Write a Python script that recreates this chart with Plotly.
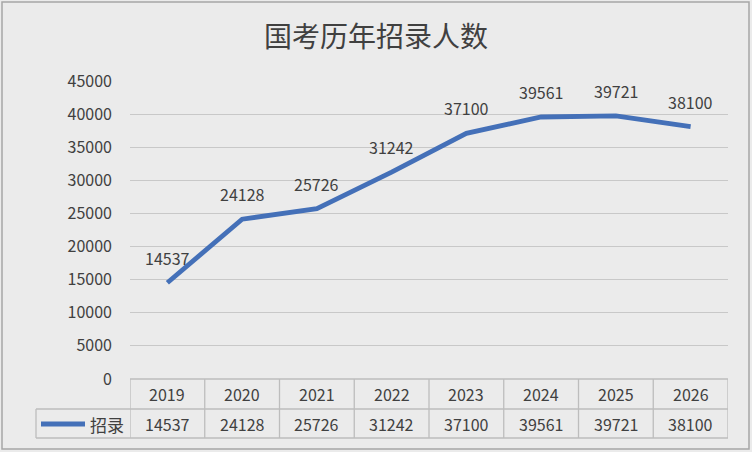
import plotly.graph_objects as go

# data
years = ['2019', '2020', '2021', '2022', '2023', '2024', '2025', '2026']
hires = [14537, 24128, 25726, 31242, 37100, 39561, 39721, 38100]
series_name = '招录'
title = '国考历年招录人数'

W, H = 752, 452
L, R, T, B = 130, 24, 81, 73
plot_w = W - L - R
plot_h = H - T - B

line_color = '#4470b8'
text_color = '#404040'
grid_color = '#c8c8c8'
font_family = 'Noto Sans CJK SC'


def px_x(px):
    # pixel x -> paper x
    return (px - L) / plot_w


def px_y(py):
    # pixel y -> paper y
    return (H - B - py) / plot_h


fig = go.Figure()
fig.add_trace(go.Scatter(x=years, y=hires, mode='lines', name=series_name,
                         line=dict(color=line_color, width=4.8),
                         showlegend=False, hoverinfo='x+y'))

annotations = []
# data labels above the points (category index on the x axis)
for i, v in enumerate(hires):
    annotations.append(dict(x=i, y=v, xref='x', yref='y', text=str(v),
                            showarrow=False, yshift=25,
                            font=dict(size=16, color=text_color)))

# data table: header row (years) and value row
row1_y = px_y(394)
row2_y = px_y(424)
for i, (yr, v) in enumerate(zip(years, hires)):
    annotations.append(dict(x=i, y=row1_y, xref='x', yref='paper',
                            yanchor='middle', text=yr, showarrow=False,
                            font=dict(size=16, color=text_color)))
    annotations.append(dict(x=i, y=row2_y, xref='x', yref='paper',
                            yanchor='middle', text=str(v), showarrow=False,
                            font=dict(size=16, color=text_color)))
annotations.append(dict(x=px_x(107), y=row2_y, xref='paper', yref='paper',
                        xanchor='center', yanchor='middle',
                        text=series_name, showarrow=False,
                        font=dict(size=17, color=text_color)))

shapes = []
tbl_color = '#bdbdbd'
y_top, y_mid, y_bot = px_y(379), px_y(409), px_y(438)
for i in range(len(years) + 1):
    shapes.append(dict(type='line', xref='x', yref='paper',
                       x0=i - 0.5, x1=i - 0.5, y0=y_top, y1=y_bot,
                       line=dict(color=tbl_color, width=1.3)))
for yy, x0 in [(y_top, 0), (y_mid, px_x(36)), (y_bot, px_x(36))]:
    shapes.append(dict(type='line', xref='paper', yref='paper',
                       x0=x0, x1=1, y0=yy, y1=yy,
                       line=dict(color=tbl_color, width=1.3)))
shapes.append(dict(type='line', xref='paper', yref='paper',
                   x0=px_x(36), x1=px_x(36), y0=y_mid, y1=y_bot,
                   line=dict(color=tbl_color, width=1.3)))
# legend key in the table
shapes.append(dict(type='line', xref='paper', yref='paper',
                   x0=px_x(41), x1=px_x(85), y0=row2_y, y1=row2_y,
                   line=dict(color=line_color, width=4.8)))
# chart frame
shapes.append(dict(type='rect', xref='paper', yref='paper',
                   x0=px_x(2), x1=px_x(W - 3), y0=px_y(2), y1=px_y(H - 3),
                   line=dict(color='#a6a6a6', width=1.5), layer='below'))

fig.update_layout(
    width=W, height=H,
    margin=dict(l=L, r=R, t=T, b=B),
    paper_bgcolor='#ebebeb', plot_bgcolor='#ebebeb',
    font=dict(family=font_family, color=text_color),
    title=dict(text=title, x=0.5, xref='container', xanchor='center',
               y=1 - 37 / H, yanchor='middle',
               font=dict(size=28, color='#404040')),
    xaxis=dict(type='category', range=[-0.5, len(years) - 0.5],
               showticklabels=False, showgrid=False, zeroline=False,
               fixedrange=True),
    yaxis=dict(range=[0, 45000], dtick=5000, tickformat='d', showgrid=True,
               gridcolor=grid_color, gridwidth=1.3, zeroline=False,
               tickfont=dict(size=16, color=text_color),
               ticklabelstandoff=17, fixedrange=True),
    annotations=annotations,
    shapes=shapes,
)

# page margin off so the chart sits at the window corner
fig.write_html("out.html",
               config={'displayModeBar': False},
               post_script="document.body.style.margin='0';"
                           "document.body.style.overflow='hidden';")
